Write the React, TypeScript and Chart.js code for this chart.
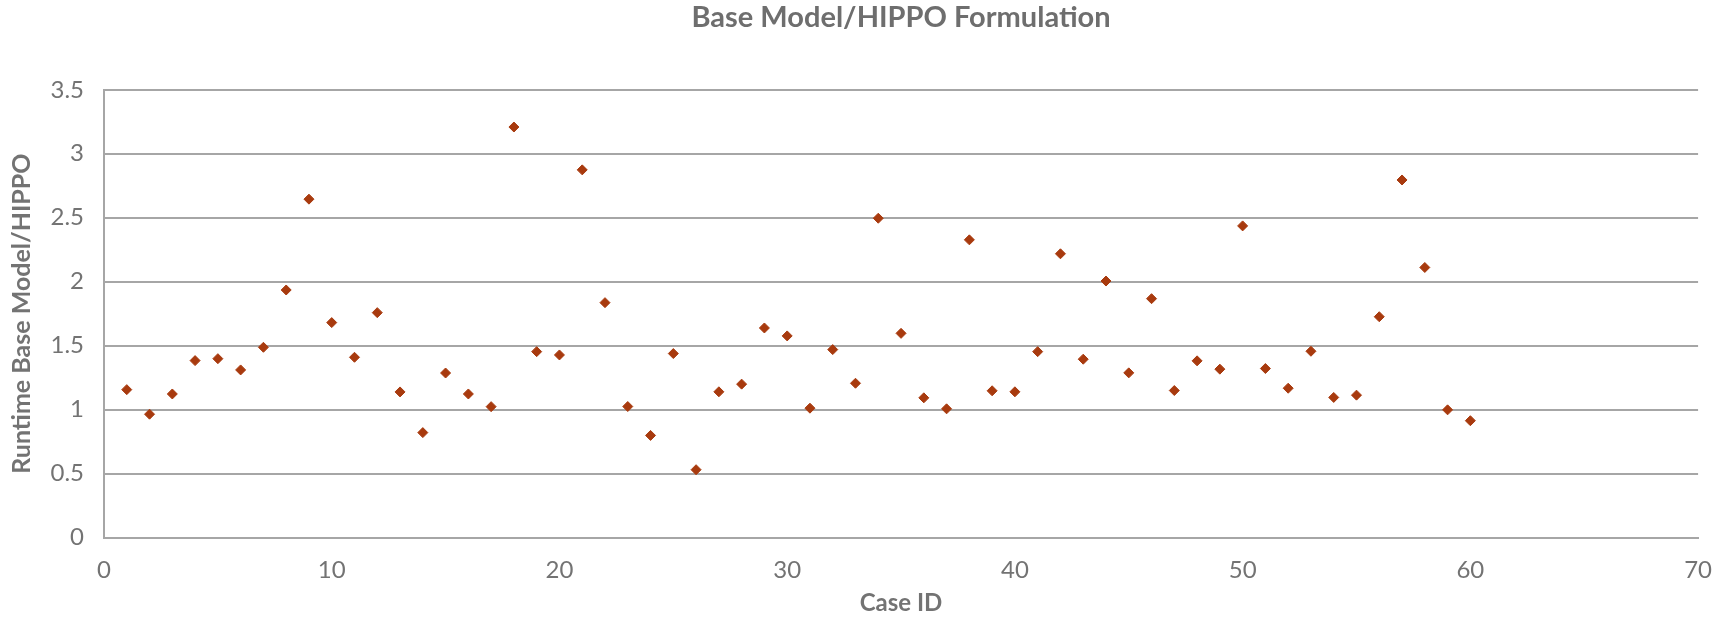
import React, { useEffect, useRef } from "react";
import { Chart, registerables } from "chart.js";

Chart.register(...registerables);

const caseIds: number[] = Array.from({ length: 60 }, (_, i) => i + 1);
const runtimeRatio: number[] = [
  1.156, 0.964, 1.122, 1.383, 1.398, 1.31, 1.487, 1.935, 2.645, 1.68,
  1.409, 1.758, 1.138, 0.82, 1.286, 1.122, 1.023, 3.209, 1.453, 1.427,
  2.874, 1.836, 1.024, 0.798, 1.438, 0.53, 1.139, 1.199, 1.638, 1.576,
  1.011, 1.469, 1.206, 2.496, 1.596, 1.092, 1.006, 2.327, 1.147, 1.139,
  1.453, 2.218, 1.394, 2.005, 1.287, 1.867, 1.149, 1.381, 1.316, 2.436,
  1.321, 1.167, 1.456, 1.095, 1.113, 1.726, 2.795, 2.111, 0.998, 0.913,
];
const chartTitle = "Base Model/HIPPO Formulation";
const xTitle = "Case ID";
const yTitle = "Runtime Base Model/HIPPO";

const TEXT = "#737373";
const GRID = "#a6a6a6";
const MARK = "#a83a0e";
const FONT = "Lato, 'Noto Sans', sans-serif";

export default function App() {
  const ref = useRef<HTMLCanvasElement | null>(null);
  useEffect(() => {
    if (!ref.current) return;
    const chart = new Chart(ref.current, {
      type: "scatter",
      data: {
        datasets: [
          {
            data: caseIds.map((x, i) => ({ x, y: runtimeRatio[i] })),
            pointStyle: "rectRot",
            pointRadius: 5,
            pointBorderWidth: 1,
            backgroundColor: MARK,
            borderColor: MARK,
          },
        ],
      },
      options: {
        animation: false,
        responsive: true,
        maintainAspectRatio: false,
        layout: { padding: { left: 0, right: 31, top: 0, bottom: 0 } },
        plugins: {
          legend: { display: false },
          tooltip: { enabled: false },
          title: {
            display: true,
            fullSize: false,
            text: chartTitle,
            color: "#6e6e6e",
            font: { family: FONT, size: 29, weight: "bold" },
            padding: { top: 0, bottom: 55 },
          },
        },
        scales: {
          x: {
            type: "linear",
            min: 0,
            max: 70,
            afterFit: (s: any) => {
              s.height = 618 - 537.5;
            },
            ticks: {
              stepSize: 10,
              color: TEXT,
              padding: 18,
              font: { family: FONT, size: 24 },
              callback: (v: any) => String(v),
            },
            grid: { display: false, drawTicks: false },
            border: { display: true, color: GRID, width: 2 },
            title: {
              display: true,
              text: xTitle,
              color: TEXT,
              font: { family: FONT, size: 24, weight: "bold" },
              padding: { top: 0, bottom: 0 },
            },
          },
          y: {
            type: "linear",
            min: 0,
            max: 3.5,
            afterFit: (s: any) => {
              s.width = 104;
            },
            ticks: {
              stepSize: 0.5,
              color: TEXT,
              padding: 20,
              font: { family: FONT, size: 24 },
              callback: (v: any) => String(v),
            },
            grid: { color: GRID, lineWidth: 2, drawTicks: false },
            border: { display: true, color: GRID, width: 2 },
            title: {
              display: true,
              text: yTitle,
              color: TEXT,
              font: { family: FONT, size: 25, weight: "bold" },
              padding: { top: 7, bottom: 0 },
            },
          },
        },
      },
    });
    return () => chart.destroy();
  }, []);
  return (
    <div style={{ position: "fixed", left: 0, top: 0, width: 1730, height: 618, background: "#fff" }}>
      <canvas ref={ref} />
    </div>
  );
}
